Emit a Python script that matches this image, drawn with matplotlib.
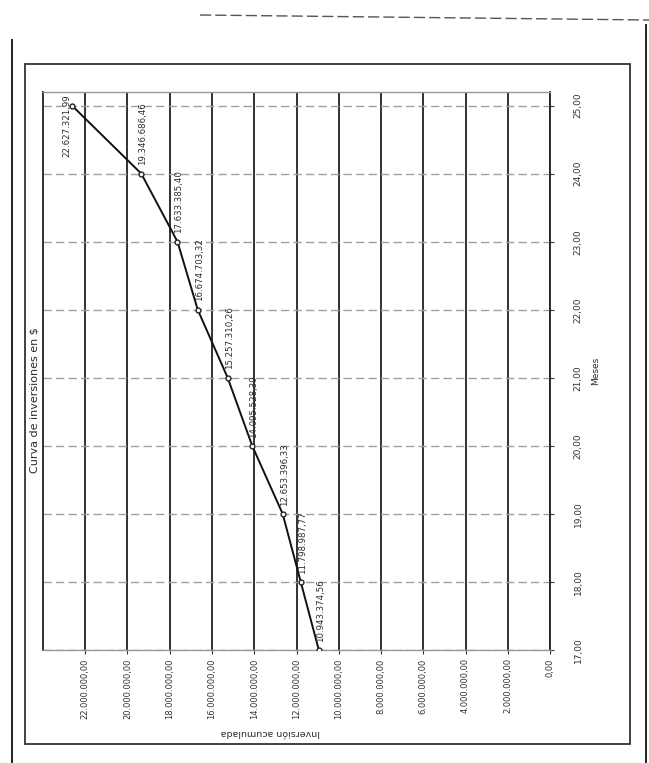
import matplotlib
matplotlib.use("Agg")
import matplotlib.pyplot as plt
from matplotlib.patches import Rectangle
from matplotlib.lines import Line2D

meses = [17, 18, 19, 20, 21, 22, 23, 24, 25]
inversion = [10943374.56, 11798987.77, 12653396.33, 14095528.39, 15257310.26,
             16674703.32, 17633385.40, 19346686.46, 22627321.99]
ticks_inv = [0, 2e6, 4e6, 6e6, 8e6, 10e6, 12e6, 14e6, 16e6, 18e6, 20e6, 22e6]
ticks_mes = [17, 18, 19, 20, 21, 22, 23, 24, 25]

TXT = "#2b2b2b"
W, H = 649, 763


def es(v):
    s = f"{v:,.2f}"
    return s.replace(",", "X").replace(".", ",").replace("X", ".")


fig = plt.figure(figsize=(6.49, 7.63), dpi=100)
fig.patch.set_facecolor("white")

# fondo: marcos de la hoja escaneada
bg = fig.add_axes([0, 0, 1, 1])
bg.set_xlim(0, W); bg.set_ylim(H, 0); bg.axis("off")
bg.add_patch(Rectangle((25, 64), 605, 680, fill=False, ec="#333333", lw=1.3))
bg.add_artist(Line2D([12, 12], [40, 763], color="#222222", lw=1.4))
bg.add_artist(Line2D([646, 646], [25, 763], color="#222222", lw=1.4))
bg.add_artist(Line2D([200, 649], [15, 20], color="#555555", lw=1.0, ls=(0, (8, 3))))

# grafico (girado: inversion en horizontal, meses en vertical)
x0, x1, y0, y1 = 43, 550, 92, 650
ax = fig.add_axes([x0 / W, 1 - y1 / H, (x1 - x0) / W, (y1 - y0) / H])
ax.set_xlim(24e6, 0)
ax.set_ylim(17, 25.2)

ax.plot(inversion, meses, color="#111111", lw=1.4, marker="o", ms=3.5,
        mfc="white", mec="#222222", zorder=3)

for i, (v, m) in enumerate(zip(inversion, meses)):
    if i == len(meses) - 1:
        ax.annotate(es(v), (v, m), xytext=(-4, 8), textcoords="offset points",
                    rotation=90, rotation_mode="anchor", ha="right", va="center",
                    fontsize=6.2, color=TXT)
    else:
        ax.annotate(es(v), (v, m), xytext=(1, 6), textcoords="offset points",
                    rotation=90, rotation_mode="anchor", ha="left", va="center",
                    fontsize=6.2, color=TXT)

ax.set_xticks(ticks_inv)
ax.set_xticklabels([es(t) for t in ticks_inv], rotation=90, fontsize=6, color=TXT)
ax.yaxis.tick_right()
ax.set_yticks(ticks_mes)
ax.set_yticklabels([es(t) for t in ticks_mes], rotation=90, va="center",
                   fontsize=6.5, color=TXT)
ax.yaxis.set_label_position("right")
ax.set_ylabel("Meses", rotation=90, fontsize=6.5, color=TXT, labelpad=6)
ax.tick_params(axis="x", length=3, width=0.8, colors="#333333", pad=3)
ax.tick_params(axis="y", length=3, width=0.8, colors="#333333", pad=14)

ax.set_axisbelow(True)
ax.grid(axis="x", color="#222222", lw=1.3)
ax.grid(axis="y", color="#a0a0a0", lw=1.0, ls=(0, (6, 3)))
for side in ["left", "right"]:
    ax.spines[side].set_color("#222222"); ax.spines[side].set_linewidth(1.3)
for side in ["top", "bottom"]:
    ax.spines[side].set_color("#999999"); ax.spines[side].set_linewidth(1.0)

fig.text(35 / W, 1 - 400 / H, "Curva de inversiones en $", rotation=90,
         ha="center", va="center", fontsize=8, color=TXT)
fig.text(270 / W, 1 - 732 / H, "Inversión acumulada", rotation=180,
         ha="center", va="center", fontsize=6.8, color=TXT)

plt.savefig("out.png", dpi=100, facecolor="white")
print("OK")
